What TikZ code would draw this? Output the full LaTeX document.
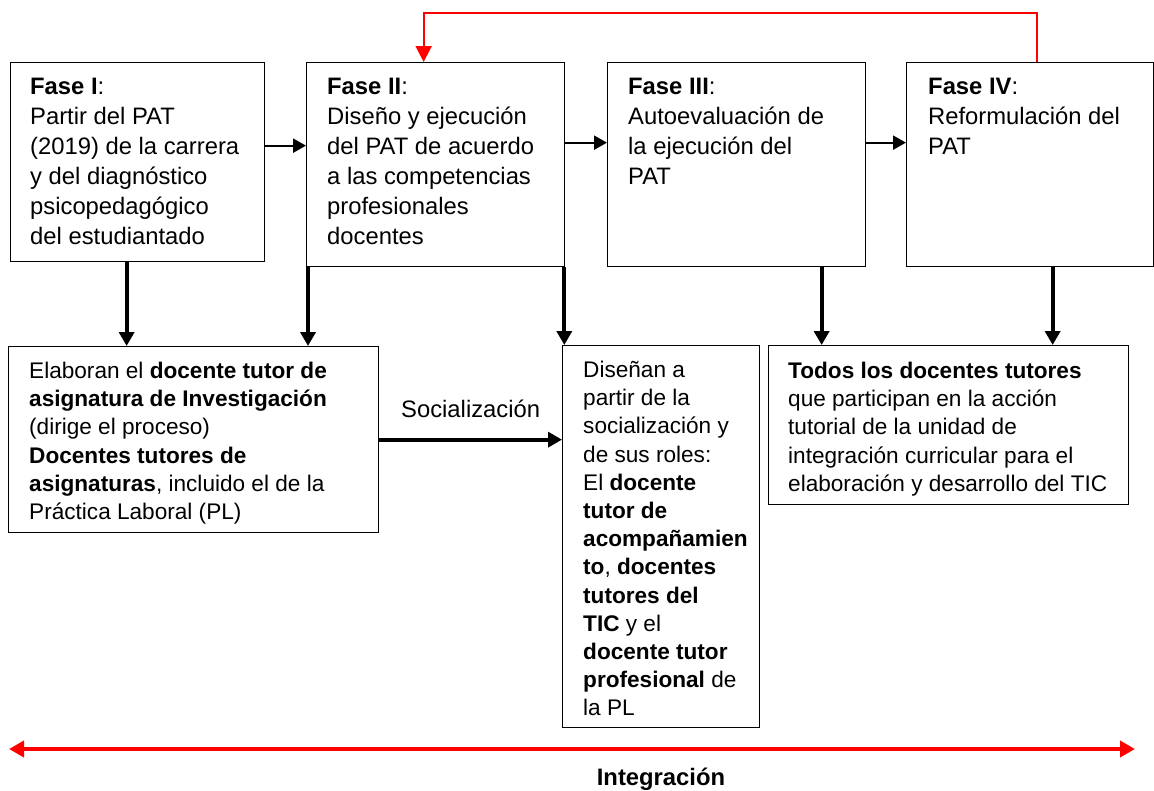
\documentclass[tikz,border=0pt]{standalone}
\usepackage{fontspec}
\setmainfont{Liberation Sans}
\usetikzlibrary{arrows.meta}

\tikzset{
  phase/.style={draw, line width=1.3pt, anchor=north west, inner sep=0pt},
  big/.style={font=\fontsize{23.8}{30}\selectfont},
  small/.style={font=\fontsize{22.6}{28.2}\selectfont},
  txt/.style={anchor=north west, inner sep=0pt, align=left},
  flow/.style={line width=2.2pt, -{Triangle[length=13pt,width=14pt]}},
  down/.style={line width=3.8pt, -{Triangle[length=14pt,width=15pt]}},
  back/.style={red, line width=2pt, -{Triangle[length=16pt,width=16pt]}},
  integ/.style={red, line width=4pt, {Triangle[length=15pt,width=16pt]}-{Triangle[length=15pt,width=16pt]}}
}

\begin{document}
\begin{tikzpicture}[x=1pt,y=-1pt]
\useasboundingbox (0,0) rectangle (1154,790);

% fases
\node[phase, minimum width=254pt, minimum height=199pt] (f1) at (10,62) {};
\node[phase, minimum width=258pt, minimum height=204pt] (f2) at (306,62) {};
\node[phase, minimum width=258pt, minimum height=204pt] (f3) at (607,62) {};
\node[phase, minimum width=247pt, minimum height=204pt] (f4) at (906,62) {};

\node[txt, big] (t1) at ([xshift=20pt,yshift=-16pt]f1.north west)
  {\textbf{Fase I}:\\Partir del PAT\\(2019) de la carrera\\y del diagnóstico\\psicopedagógico\\del estudiantado};
\node[txt, big] (t2) at ([xshift=21pt,yshift=-16pt]f2.north west)
  {\textbf{Fase II}:\\Diseño y ejecución\\del PAT de acuerdo\\a las competencias\\profesionales\\docentes};
\node[txt, big] (t3) at ([xshift=21pt,yshift=-16pt]f3.north west)
  {\textbf{Fase III}:\\Autoevaluación de\\la ejecución del\\PAT};
\node[txt, big] (t4) at ([xshift=22pt,yshift=-16pt]f4.north west)
  {\textbf{Fase IV}:\\Reformulación del\\PAT};

% actores
\node[phase, minimum width=370pt, minimum height=186pt] (a1) at (8,346) {};
\node[phase, minimum width=197pt, minimum height=382pt] (b1) at (562,345) {};
\node[phase, minimum width=360pt, minimum height=159pt] (c1) at (768,345) {};

\node[txt, small] (ta) at ([xshift=21pt,yshift=-16pt]a1.north west)
  {Elaboran el \textbf{docente tutor de}\\\textbf{asignatura de Investigación}\\(dirige el proceso)\\\textbf{Docentes tutores de}\\\textbf{asignaturas}, incluido el de la\\Práctica Laboral (PL)};
\node[txt, small] (tb) at ([xshift=21pt,yshift=-16pt]b1.north west)
  {Diseñan a\\partir de la\\socialización y\\de sus roles:\\El \textbf{docente}\\\textbf{tutor de}\\\textbf{acompañamien}\\\textbf{to}, \textbf{docentes}\\\textbf{tutores del}\\\textbf{TIC} y el\\\textbf{docente tutor}\\\textbf{profesional} de\\la PL};
\node[txt, small] (tc) at ([xshift=20pt,yshift=-17pt]c1.north west)
  {\textbf{Todos los docentes tutores}\\que participan en la acción\\tutorial de la unidad de\\integración curricular para el\\elaboración y desarrollo del TIC};

% conexiones
\draw[flow] ([yshift=16.5pt]f1.east) -- ([yshift=16.5pt]f1.east -| f2.west);
\draw[flow] ([yshift=22pt]f2.east) -- ([yshift=22pt]f2.east -| f3.west);
\draw[flow] ([yshift=22pt]f3.east) -- ([yshift=22pt]f3.east -| f4.west);

\draw[down] ([xshift=-11pt]f1.south) -- ([xshift=-11pt]f1.south |- a1.north);
\draw[down] ([xshift=2pt]f2.south west) -- ([xshift=2pt]f2.south west |- a1.north);
\draw[down] ([xshift=-1pt]f2.south east) -- ([xshift=-1pt]f2.south east |- b1.north);
\draw[down] ([xshift=85pt]f3.south) -- ([xshift=85pt]f3.south |- c1.north);
\draw[down] ([xshift=22.5pt]f4.south) -- ([xshift=22.5pt]f4.south |- c1.north);

\draw[down] (a1.east) -- (a1.east -| b1.west)
  node[midway, anchor=base, yshift=22pt, big] (soc) {Socialización};

\draw[back] ([xshift=6.5pt]f4.north) -- ++(0,-49.5) -| ([xshift=-12pt]f2.north);

% integracion
\coordinate (il) at (9,749);
\coordinate (ir) at (1135,749);
\draw[integ] (il) -- (ir);
\node[big, anchor=base] (ig) at (661,785) {\textbf{Integración}};
\end{tikzpicture}
\end{document}
